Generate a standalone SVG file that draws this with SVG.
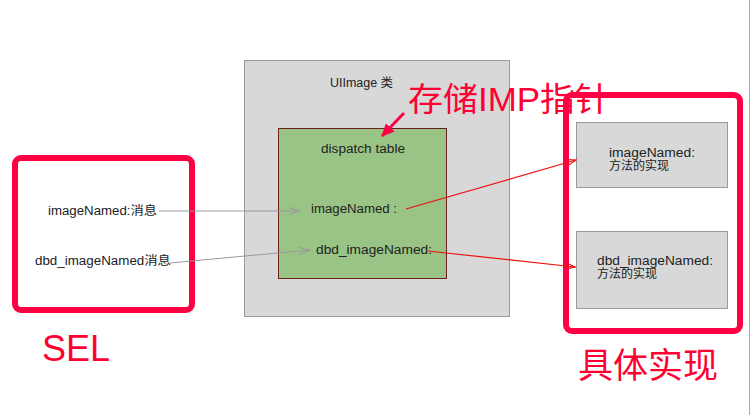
<svg xmlns="http://www.w3.org/2000/svg" width="750" height="415" viewBox="0 0 750 415">
<style>
.t{font-family:"Liberation Sans","Noto Sans CJK SC",sans-serif;font-size:12px;fill:#222}
.big{font-family:"Liberation Sans","Noto Sans CJK SC",sans-serif;fill:#ff0033}
.redbox{fill:none;stroke:#ff0044;stroke-width:6}
.gbox{fill:#d8d8d8;stroke:#999;stroke-width:1}
.gray{stroke:#999;stroke-width:1;fill:none}
.red{stroke:#ee1111;stroke-width:1.2;fill:none}
</style>
<defs>
<marker id="ag" markerWidth="12" markerHeight="8" refX="11" refY="4" orient="auto" markerUnits="userSpaceOnUse">
<path d="M0,0.5 L11,4 L0,7.5" fill="none" stroke="#999" stroke-width="1"/>
</marker>
<marker id="ar" markerWidth="10" markerHeight="8" refX="9" refY="4" orient="auto" markerUnits="userSpaceOnUse">
<path d="M0,1 L9,4 L0,7" fill="none" stroke="#ee1111" stroke-width="1.2"/>
</marker>
<marker id="ap" markerWidth="14" markerHeight="12" refX="12" refY="6" orient="auto" markerUnits="userSpaceOnUse">
<path d="M0,0 L13,6 L0,12 Z" fill="#ff0044"/>
</marker>
</defs>
<rect x="0" y="0" width="750" height="415" fill="#fff"/>
<line x1="749.5" y1="0" x2="749.5" y2="415" stroke="#aaa" stroke-width="1"/>

<g id="uiimage-class">
<rect class="gbox" x="244.5" y="60.5" width="265" height="256"/>
<text class="t" x="330" y="87" textLength="63" lengthAdjust="spacingAndGlyphs">UIImage  类</text>
</g>
<g id="dispatch-table">
<rect x="278.5" y="128.5" width="168" height="150" fill="#99c485" stroke="#6b2020" stroke-width="1"/>
<text class="t" x="321" y="153" textLength="84" lengthAdjust="spacingAndGlyphs">dispatch table</text>
<text class="t" x="311" y="213" textLength="86" lengthAdjust="spacingAndGlyphs">imageNamed :</text>
<text class="t" x="316" y="254" textLength="116" lengthAdjust="spacingAndGlyphs">dbd_imageNamed:</text>
</g>
<g id="imp-label">
<text class="big" x="408" y="111" font-size="33" textLength="202" lengthAdjust="spacingAndGlyphs">存储IMP指针</text>
</g>
<g id="sel-box">
<rect class="redbox" x="15" y="158" width="177" height="152" rx="6"/>
<text class="t" x="48" y="215" textLength="109" lengthAdjust="spacingAndGlyphs">imageNamed:消息</text>
<text class="t" x="35" y="265" textLength="136" lengthAdjust="spacingAndGlyphs">dbd_imageNamed消息</text>
</g>
<g id="sel-label">
<text class="big" x="42" y="361" font-size="36">SEL</text>
</g>
<g id="impl-box">
<rect class="redbox" x="566" y="95" width="174" height="236" rx="6"/>
</g>
<g id="impl-imageNamed">
<rect class="gbox" x="576.5" y="122.5" width="151" height="65"/>
<text class="t" x="609" y="157" textLength="86" lengthAdjust="spacingAndGlyphs">imageNamed:</text>
<text class="t" x="609" y="170" textLength="60" lengthAdjust="spacingAndGlyphs">方法的实现</text>
</g>
<g id="impl-dbd">
<rect class="gbox" x="576.5" y="231.5" width="151" height="77"/>
<text class="t" x="597" y="265" textLength="116" lengthAdjust="spacingAndGlyphs">dbd_imageNamed:</text>
<text class="t" x="597" y="278" textLength="60" lengthAdjust="spacingAndGlyphs">方法的实现</text>
</g>
<g id="impl-label">
<text class="big" x="578" y="378" font-size="35" textLength="140" lengthAdjust="spacingAndGlyphs">具体实现</text>
</g>
<g id="connectors">
<line class="gray" x1="159" y1="211" x2="300" y2="211" marker-end="url(#ag)"/>
<line class="gray" x1="170" y1="263" x2="310" y2="250" marker-end="url(#ag)"/>
<line class="red" x1="406" y1="209" x2="576" y2="160" marker-end="url(#ar)"/>
<line class="red" x1="428" y1="251" x2="575" y2="267" marker-end="url(#ar)"/>
<line x1="404" y1="113" x2="382" y2="136" stroke="#ff0044" stroke-width="3" marker-end="url(#ap)"/>
</g>
</svg>
